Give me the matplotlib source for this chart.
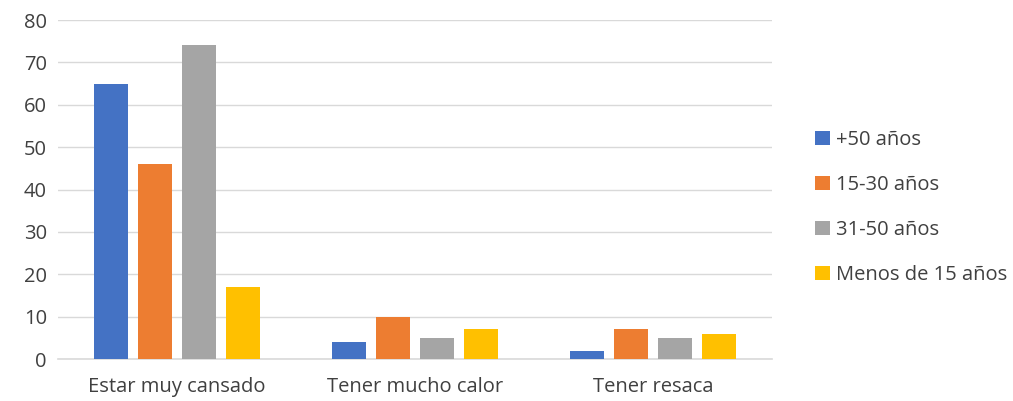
import matplotlib.pyplot as plt
import numpy as np

categories = ["Estar muy cansado", "Tener mucho calor", "Tener resaca"]
series_names = ["+50 años", "15-30 años", "31-50 años", "Menos de 15 años"]
mas_50 = [65, 4, 2]
de_15_30 = [46, 10, 7]
de_31_50 = [74, 5, 5]
menos_15 = [17, 7, 6]
colors = ["#4472c4", "#ed7d31", "#a5a5a5", "#ffc000"]

plt.rcParams["font.family"] = ["Open Sans", "DejaVu Sans"]

fig = plt.figure(figsize=(10.13, 4.01), dpi=100)
ax = fig.add_axes([0.0573, 0.1047, 0.7047, 0.8453])

x = np.arange(len(categories))
width = 0.143
step = 0.185
for i, (vals, name) in enumerate(zip([mas_50, de_15_30, de_31_50, menos_15], series_names)):
    ax.bar(x + (i - 1.5) * step, vals, width, color=colors[i], label=name, zorder=3)

ax.set_xlim(-0.5, 2.5)
ax.set_ylim(0, 80)
ax.set_yticks(range(0, 81, 10))
ax.set_xticks(x)
ax.set_xticklabels(categories)
ax.grid(axis="y", color="#d9d9d9", linewidth=1, zorder=0)
for s in ["top", "right", "left"]:
    ax.spines[s].set_visible(False)
ax.spines["bottom"].set_color("#d9d9d9")
ax.spines["bottom"].set_linewidth(1.2)
ax.tick_params(axis="both", length=0, labelsize=14.5, colors="#404040")
ax.tick_params(axis="x", pad=13)
ax.tick_params(axis="y", pad=8)

fig.legend(loc="center left", bbox_to_anchor=(0.805, 0.482), frameon=False,
           fontsize=14.5, handlelength=0.7, handleheight=0.7, handletextpad=0.3,
           labelspacing=1.25, labelcolor="#404040", borderpad=0, borderaxespad=0)

fig.savefig("out.png", dpi=100)
